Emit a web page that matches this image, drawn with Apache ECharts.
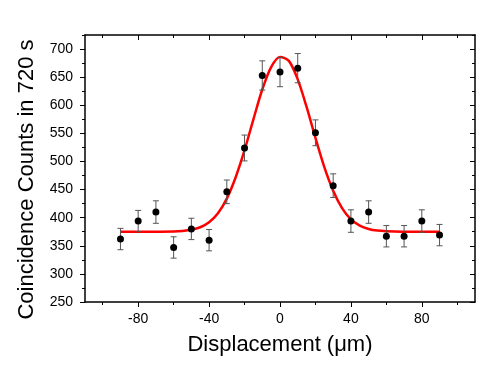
<!DOCTYPE html>
<html>
<head>
<meta charset="utf-8">
<script src="https://cdn.jsdelivr.net/npm/echarts@6/dist/echarts.min.js"></script>
<style>
  html, body { margin: 0; padding: 0; background: #fff; }
  #chart { width: 498px; height: 375px; }
</style>
</head>
<body>
<div id="chart"></div>
<script>
// measured points
const displacement = [-90, -80, -70, -60, -50, -40, -30, -20, -10, 0, 10, 20, 30, 40, 50, 60, 70, 80, 90];
const counts = [362, 394, 410, 347, 380, 360, 446, 524, 653, 659, 666, 551, 457, 394, 410, 367, 367, 394, 369];
const countErr = [19, 19, 20, 19, 19, 19, 21, 23, 26, 26, 26, 23, 21, 20, 20, 19, 19, 20, 19];

// fitted curve
const fitX = [-90, -75, -60, -55, -50, -45, -40, -35, -30, -25, -20, -15, -10, -5, 0, 5, 10, 15, 20, 25, 30, 35, 40, 45, 50, 55, 60, 75, 90];
const fitY = [375, 375, 375.5, 376.4, 378.5, 383, 392, 408, 434, 472, 520, 575, 628, 668, 686, 679, 646, 597, 542, 490, 448, 417, 397, 386, 380, 377, 376, 375, 375];

// tick positions
const xMajor = [-80, -40, 0, 40, 80];
const xMinor = [-100, -60, -20, 20, 60, 100];
const yMajor = [250, 300, 350, 400, 450, 500, 550, 600, 650, 700];
const yMinor = [275, 325, 375, 425, 475, 525, 575, 625, 675, 725];

const FONT = '"Liberation Sans", Arial, Helvetica, sans-serif';
const AXIS_COLOR = "#000";
const ERR_COLOR = "#555";

const chart = echarts.init(document.getElementById("chart"), null, { renderer: "canvas" });

function xAxisDef(pos, ticks, len, inside, withLine, withLabels) {
  return {
    type: "value",
    position: pos,
    min: -110,
    max: 110,
    axisLine: { show: withLine, onZero: false, lineStyle: { color: AXIS_COLOR, width: 1.5 } },
    axisTick: { show: true, inside: inside, length: len, customValues: ticks, lineStyle: { color: AXIS_COLOR, width: 1 } },
    axisLabel: withLabels
      ? { show: true, customValues: ticks, margin: 10, color: "#000", fontSize: 14, fontFamily: FONT }
      : { show: false },
    splitLine: { show: false },
  };
}

function yAxisDef(pos, ticks, len, inside, withLine, withLabels) {
  return {
    type: "value",
    position: pos,
    min: 250,
    max: 725,
    axisLine: { show: withLine, onZero: false, lineStyle: { color: AXIS_COLOR, width: 1.5 } },
    axisTick: { show: true, inside: inside, length: len, customValues: ticks, lineStyle: { color: AXIS_COLOR, width: 1 } },
    axisLabel: withLabels
      ? { show: true, customValues: ticks, margin: 12, color: "#000", fontSize: 14, fontFamily: FONT }
      : { show: false },
    splitLine: { show: false },
  };
}

const xBottom = xAxisDef("bottom", xMajor, 5, false, true, true);
xBottom.name = "Displacement (\u03bcm)";
xBottom.nameLocation = "middle";
xBottom.nameGap = 32;
xBottom.nameTextStyle = { fontSize: 22, color: "#000", fontFamily: FONT };

const yLeft = yAxisDef("left", yMajor, 5, false, true, true);
yLeft.name = "Coincidence Counts in 720 s";
yLeft.nameLocation = "middle";
yLeft.nameGap = 47;
yLeft.nameTextStyle = { fontSize: 22, color: "#000", fontFamily: FONT, padding: [0, 22, 0, 0] };

const errData = displacement.map((x, i) => [x, counts[i] - countErr[i], counts[i] + countErr[i]]);

chart.setOption({
  animation: false,
  backgroundColor: "#fff",
  textStyle: { fontFamily: FONT },
  grid: { left: 85, right: 23, top: 35, bottom: 73, containLabel: false },
  xAxis: [
    xBottom,
    xAxisDef("bottom", xMinor, 3, false, false, false),
    xAxisDef("top", xMajor, 5, true, true, false),
    xAxisDef("top", xMinor, 3, true, false, false),
  ],
  yAxis: [
    yLeft,
    yAxisDef("left", yMinor, 3, false, false, false),
    yAxisDef("right", yMajor, 5, true, true, false),
    yAxisDef("right", yMinor, 3, true, false, false),
  ],
  series: [
    {
      name: "fit",
      type: "line",
      data: fitX.map((x, i) => [x, fitY[i]]),
      smooth: 0.3,
      showSymbol: false,
      lineStyle: { color: "#ff0000", width: 2.5 },
      z: 2,
    },
    {
      name: "error",
      type: "custom",
      data: errData,
      encode: { x: 0, y: [1, 2] },
      renderItem: function (params, api) {
        const x = api.value(0);
        const lo = api.coord([x, api.value(1)]);
        const hi = api.coord([x, api.value(2)]);
        const half = 3;
        const style = { stroke: ERR_COLOR, lineWidth: 1 };
        return {
          type: "group",
          children: [
            { type: "line", shape: { x1: lo[0], y1: lo[1], x2: hi[0], y2: hi[1] }, style: style },
            { type: "line", shape: { x1: lo[0] - half, y1: lo[1], x2: lo[0] + half, y2: lo[1] }, style: style },
            { type: "line", shape: { x1: hi[0] - half, y1: hi[1], x2: hi[0] + half, y2: hi[1] }, style: style },
          ],
        };
      },
      z: 3,
    },
    {
      name: "counts",
      type: "scatter",
      data: displacement.map((x, i) => [x, counts[i]]),
      symbol: "circle",
      symbolSize: 7,
      itemStyle: { color: "#000", opacity: 1 },
      z: 4,
    },
  ],
});
</script>
</body>
</html>
